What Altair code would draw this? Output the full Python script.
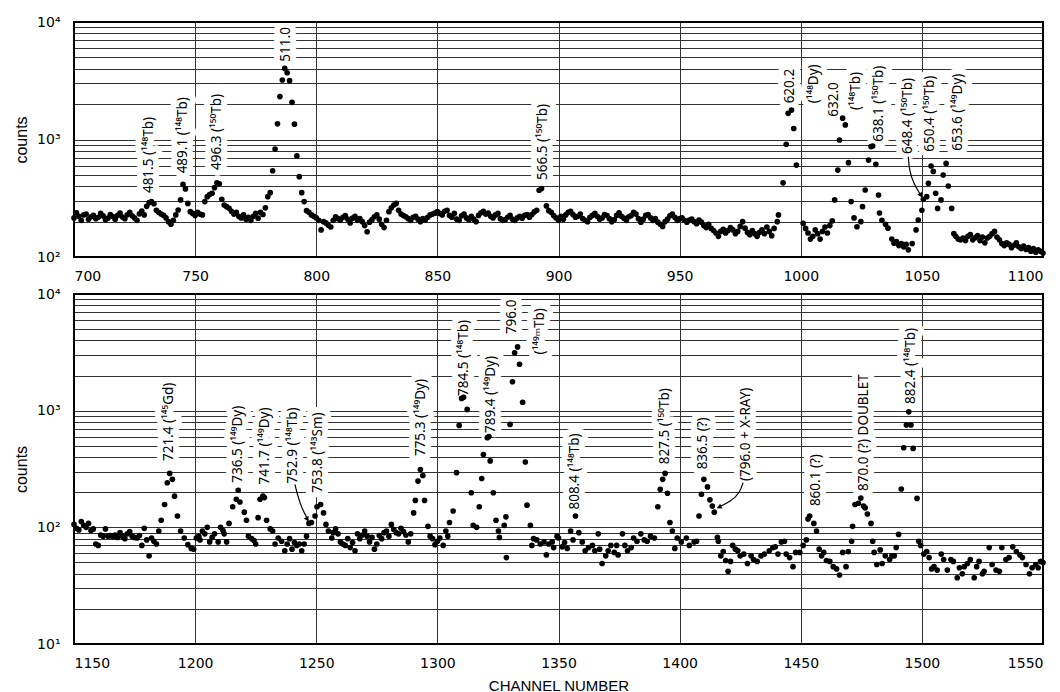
import altair as alt
import pandas as pd

# ---------------- data ----------------
# top spectrum: channel, counts
top_points = [
(700,215),(701,238),(702,222),(703,205),(704,228),(705,232),(706,210),(707,220),(708,226),(709,212),
(710,218),(711,235),(712,224),(713,208),(714,214),(715,230),(716,221),(717,210),(718,226),(719,236),
(720,219),(721,212),(722,229),(723,240),(724,224),(725,215),(726,205),(727,233),(728,246),(729,228),
(730,270),(731,290),(732,296),(733,284),(734,250),(735,240),(736,232),(737,226),(738,215),(739,200),
(740,190),(741,205),(742,228),(743,251),(744,306),(745,415),(746,380),(747,286),(748,243),(749,235),
(750,225),(751,240),(752,232),(753,228),(754,296),(755,326),(756,340),(757,349),(758,389),(759,428),
(760,420),(761,310),(762,277),(763,268),(764,260),(765,245),(766,232),(767,240),(768,222),(769,215),
(770,228),(771,210),(772,218),(773,205),(774,222),(775,235),(776,214),(777,240),(778,230),(779,262),
(780,326),(781,353),(782,542),(783,830),(784,1360),(785,2320),(786,3210),(787,4030),(788,3700),(789,3170),
(790,2070),(791,1350),(792,725),(793,483),(794,353),(795,296),(796,248),(797,240),(798,228),(799,222),
(800,215),(801,205),(802,170),(803,200),(804,195),(805,186),(806,180),(807,205),(808,220),(809,212),
(810,206),(811,218),(812,225),(813,210),(814,195),(815,214),(816,222),(817,205),(818,212),(819,200),
(820,185),(821,164),(822,198),(823,208),(824,220),(825,228),(826,210),(827,190),(828,178),(829,205),
(830,243),(831,262),(832,277),(833,286),(834,250),(835,232),(836,225),(837,220),(838,212),(839,205),
(840,218),(841,222),(842,210),(843,200),(844,212),(845,206),(846,218),(847,228),(848,232),(849,236),
(850,243),(851,235),(852,228),(853,245),(854,250),(855,226),(856,218),(857,235),(858,210),(859,205),
(860,224),(861,232),(862,215),(863,208),(864,222),(865,210),(866,200),(867,226),(868,238),(869,245),
(870,232),(871,236),(872,222),(873,215),(874,228),(875,235),(876,212),(877,205),(878,208),(879,218),
(880,226),(881,210),(882,205),(883,215),(884,222),(885,214),(886,226),(887,230),(888,218),(889,230),
(890,242),(891,250),(892,370),(893,382),(895,272),(896,248),(897,240),(898,225),(899,215),
(900,205),(901,222),(902,210),(903,228),(904,240),(905,245),(906,230),(907,218),(908,222),(909,232),
(910,212),(911,205),(912,200),(913,218),(914,226),(915,235),(916,222),(917,210),(918,215),(919,230),
(920,225),(921,212),(922,200),(923,208),(924,226),(925,238),(926,222),(927,214),(928,205),(929,220),
(930,225),(931,240),(932,232),(933,212),(934,198),(935,210),(936,226),(937,230),(938,215),(939,205),
(940,212),(941,198),(942,190),(943,182),(944,200),(945,210),(946,224),(947,232),(948,218),(949,205),
(950,212),(951,215),(952,205),(953,198),(954,206),(955,210),(956,200),(957,192),(958,206),(959,198),
(960,185),(961,178),(962,190),(963,175),(964,168),(965,160),(966,150),(967,165),(968,172),(969,160),
(970,168),(971,178),(972,170),(973,158),(974,165),(975,182),(976,200),(977,176),(978,162),(979,155),
(980,168),(981,158),(982,150),(983,162),(984,170),(985,158),(986,180),(987,165),(988,152),(989,175),
(990.3,200),(990.8,228),(992.7,428),(994,910),(994.8,1670),(996.2,1780),(997.1,1240),(998.2,606),
(1001,193),(1002,175),(1003,160),(1004,142),(1005,150),(1006,170),(1007,158),(1008,142),(1009,165),
(1010,180),(1011,160),(1012,185),(1013,203),(1014,306),(1015.3,549),(1016,990),(1017.3,1520),
(1018.4,1330),(1019.7,635),(1020.8,296),(1022,215),(1023.2,181),(1024.8,200),(1025.5,268),(1026.6,372),
(1028,668),(1029,870),(1029.7,880),(1031,615),(1032.1,337),(1032.5,237),(1033.5,205),(1035,190),
(1036,176),(1037.6,142),(1038.5,131),(1039.5,135),(1040.5,125),(1041.5,130),(1042.5,122),(1043.5,128),
(1044.4,115),(1046,130),(1047.6,170),(1048.5,206),(1050,250),(1050.6,310),(1052,326),(1052.7,424),
(1053.8,595),(1054.7,535),(1055.7,349),(1056.5,259),(1057.9,306),(1058.8,499),(1060,626),(1060.9,402),
(1062.3,259),(1063.2,158),(1064,150),(1065,142),(1066,140),(1067,145),(1068,138),(1069,150),
(1070,155),(1071,140),(1072,146),(1073,152),(1074,138),(1075,148),(1076,132),(1077,145),(1078,150),
(1079,158),(1080,165),(1081,148),(1082,140),(1083,130),(1084,125),(1085,132),(1086,128),(1087,120),
(1088,126),(1089,132),(1090,122),(1091,118),(1092,124),(1093,116),(1094,120),(1095,112),(1096,118),
(1097,110),(1098,115),(1099,112),(1100,108),
]

# bottom spectrum: channel, counts
bottom_points = [
(1150,106),(1151,98),(1152,95),(1153,112),(1154,104),(1155,100),(1156,108),(1157,94),(1158,97),(1159,72),
(1160,70),(1161,86),(1162,84),(1163,97),(1164,84),(1165,85),(1166,83),(1167,86),(1168,82),(1169,90),
(1170,84),(1171,80),(1172,88),(1173,92),(1174,84),(1175,82),(1176,81),(1177,85),(1178,70),(1179,98),
(1180,78),(1181,57),(1182,81),(1183,76),(1184,72),(1185,93),
(1186,115),(1187.4,157),(1188.5,241),(1189.5,290),(1190.6,258),(1191.5,185),(1192.7,125),(1194,93),
(1195.5,81),(1197,71),(1198.4,66),(1199.4,65),(1200.5,81),(1201.5,84),(1202,78),(1203,93),(1204,88),
(1205,100),(1206,75),(1207,82),(1208,88),(1209.5,75),(1210.5,100),(1211.5,94),(1212,88),(1213,75),
(1214,108),(1215.5,150),(1217,174),(1217.8,208),(1218.5,165),(1220.3,135),(1221.2,115),(1222,84),
(1223.3,80),(1224.3,77),(1225,72),(1226,121),(1226.8,174),(1228,185),(1228.6,180),(1229.5,115),
(1231,97),(1232,93),(1233,72),(1234.3,81),(1235.7,76),(1237,63),(1238,72),(1239,80),(1240,65),
(1241,74),(1242,70),(1243,72),(1244,63),(1245,72),(1246,84),(1247,108),(1248,110),(1249.5,125),
(1250.3,150),(1251.8,157),(1253,133),(1254,106),(1255,93),(1256.4,81),(1257,90),(1258,97),(1259,88),
(1260,75),(1261,72),(1262,70),(1263,80),(1264,67),(1265,74),(1266,63),(1267,88),(1268,80),(1269,86),
(1270,93),(1271,84),(1272,75),(1273,82),(1274,65),(1275,72),(1276,85),(1277,80),(1278,90),(1279,93),
(1280,84),(1281,106),(1282,96),(1283,90),(1284,88),(1285,98),(1286,92),(1287,86),(1288,75),(1289,88),
(1290.2,133),(1290.9,170),(1292,249),(1293,313),(1294,278),(1294.7,170),(1296.1,102),(1297,84),
(1298,80),(1299,71),(1300,76),(1301,81),(1302.4,70),(1303.5,93),(1304.3,84),
(1305,110),(1306.5,138),(1307.9,294),(1309,748),(1310,1273),(1310.8,1300),(1312.3,1025),(1314,198),
(1314.8,104),(1316.2,100),(1317.3,150),(1318.3,262),(1319,420),(1320.6,587),(1321.3,600),(1321.8,371),
(1323.1,198),(1324.2,115),(1325.2,93),(1325.6,82),(1327.6,104),(1328.3,123),(1328.5,55),(1330,762),
(1331,1770),(1331.9,3130),(1333.1,3520),(1333.9,2500),(1335.2,1180),(1336.3,363),(1337,155),(1338.4,104),
(1339,70),(1339.7,80),(1341,78),(1342.5,72),(1344,75),(1345,58),(1346,72),(1347.4,75),(1348,67),
(1349.4,84),(1350,81),(1351.5,68),(1352.5,74),(1353.6,66),(1355,93),(1356,78),(1357,125),(1358.4,90),
(1359.8,75),(1361,63),(1362.4,67),(1364,70),(1365,63),(1366.4,88),(1367,65),(1368,49),(1369.5,57),
(1370.5,63),(1371.6,70),(1373,61),(1374,70),(1374.6,58),(1376.4,88),(1377.4,70),(1378.5,63),(1380,67),
(1381,81),(1382.4,76),(1384,88),(1385.4,78),(1386.6,76),(1388,84),(1389.6,81),(1391,150),(1392,212),
(1393,258),(1394,290),(1395,196),(1396,110),(1397,93),(1398,66),(1399,81),(1400.7,75),(1402.8,81),
(1404,70),(1406,75),(1407,76),
(1408,125),(1409,192),(1410,258),(1411.5,222),(1412.5,172),(1413.5,152),(1414.3,135),(1415.6,82),
(1416,76),(1417,57),(1418,62),(1419,52),(1420,42),(1421,51),(1421.9,70),(1423,65),(1424,63),(1425,57),
(1426.5,59),(1428,49),(1429.5,57),(1430.5,53),(1432,51),(1433.6,57),(1435,59),(1437,63),(1438.5,67),
(1439.5,68),(1440.6,59),(1442,75),(1443.3,76),(1444,59),(1445.4,55),(1446.8,46),(1447.9,61),(1449.6,61),
(1451,70),(1452.3,78),(1453,118),(1453.7,125),(1455.4,108),(1456.5,93),(1457.6,65),(1458.6,57),
(1459.5,61),(1460.6,52),(1462,51),(1463.4,46),(1464.8,44),(1466,39),(1467.3,61),(1468.7,46),(1469.6,62),
(1471,76),(1471.4,102),(1472.4,157),(1473.8,161),(1474.8,178),(1475.9,152),(1476.6,147),(1477.5,130),
(1479,108),(1479.7,76),(1480.3,61),(1481.4,48),(1482.8,64),(1483.6,49),(1484.9,57),(1486.7,53),
(1487.6,57),(1488.6,57),(1489.4,67),(1490.4,87),(1491.5,213),(1492.5,481),(1493.6,754),(1494.6,977),
(1495.5,754),(1496.4,475),(1498,177),(1498.7,76),(1499.5,70),(1500.8,59),(1502,62),(1503,55),(1504,44),
(1505,46),(1506.3,43),(1508,59),(1509,53),(1510.5,43),(1512,53),(1513,51),(1514.6,37),(1515.5,45),
(1516.7,40),(1517.5,46),(1518.8,49),(1520,53),(1521.6,37),(1522.6,46),(1523.6,51),(1525,40),(1525.7,42),
(1527.8,67),(1529,48),(1530.6,43),(1532,42),(1533,67),(1534.7,53),(1536,55),(1537.5,68),(1539,62),
(1540.5,58),(1541.5,55),(1543,48),(1544.4,40),(1545.5,45),(1547,48),(1548,45),(1549,51),(1550,50),
]

# peak labels: text, channel, counts at the start (bottom) of the rotated text
top_labels = [
("481.5 (¹⁴⁸Tb)", 731, 350),
("489.1 (¹⁴⁸Tb)", 745, 515),
("496.3 (¹⁵⁰Tb)", 759, 550),
("511.0", 787.5, 4600),
("566.5 (¹⁵⁰Tb)", 893.8, 452),
("620.2", 995.5, 2030),
("(¹⁴⁸Dy)", 1005.5, 2030),
("632.0", 1013.8, 1563),
("(¹⁴⁸Tb)", 1023, 1780),
("638.1 (¹⁵⁰Tb)", 1032.4, 957),
("648.4 (¹⁵⁰Tb)", 1044.4, 753),
("650.4 (¹⁵⁰Tb)", 1053.3, 787),
("653.6 (¹⁴⁹Dy)", 1065, 803),
]
bottom_labels = [
("721.4 (¹⁴⁵Gd)", 1189.2, 370),
("736.5 (¹⁴⁹Dy)", 1217.8, 241),
("741.7 (¹⁴⁹Dy)", 1228.8, 233),
("752.9 (¹⁴⁸Tb)", 1240.5, 237),
("753.8 (¹⁴³Sm)", 1250.9, 198),
("775.3 (¹⁴⁹Dy)", 1293.3, 408),
("784.5 (¹⁴⁸Tb)", 1311, 1334),
("789.4 (¹⁴⁹Dy)", 1322, 643),
("796.0", 1331, 4530),
("(¹⁴⁹ᵐTb)", 1342.3, 3035),
("808.4 (¹⁴⁸Tb)", 1356.7, 142),
("827.5 (¹⁵⁰Tb)", 1394, 347),
("836.5 (?)", 1409.6, 314),
("(796.0 + X-RAY)", 1427.6, 249),
("860.1 (?)", 1456.5, 152),
("870.0 (?) DOUBLET", 1476.3, 205),
("882.4 (¹⁴⁸Tb)", 1495.6, 1140),
]

# leader arrows: id, channel, counts (path points)
top_arrows = [(1, 1044.4, 714), (1, 1044.8, 549), (1, 1046.5, 424), (1, 1049.9, 326)]
top_heads = [(1049.6, 335, 148)]
bottom_arrows = [
(1, 1241.2, 233), (1, 1242.2, 192), (1, 1243.9, 147), (1, 1246.7, 115),
(2, 1426.2, 241), (2, 1424.8, 198), (2, 1421.4, 168), (2, 1415.6, 147),
]
bottom_heads = [(1246.3, 117, 152), (1416.3, 149, 244)]

top_x_ticks = [700, 750, 800, 850, 900, 950, 1000, 1050, 1100]
bottom_x_ticks = [1150, 1200, 1250, 1300, 1350, 1400, 1450, 1500, 1550]
top_y_grid = [m * 10 ** k for k in (2, 3) for m in range(1, 10)] + [10000]
bottom_y_grid = [m * 10 ** k for k in (1, 2, 3) for m in range(1, 10)] + [10000]

W = 969
LABEL_FONT = "Noto Sans"
TITLE_FONT = "Liberation Sans"
TICK_FONT = "DejaVu Sans"

ylab = ("datum.value == 10000 ? '10⁴' : datum.value == 1000 ? '10³' : "
        "datum.value == 100 ? '10²' : datum.value == 10 ? '10¹' : ''")


def panel(points, labels, arrows, heads, xdom, xticks, ydom, ygrid, height, xtitle):
    pts = pd.DataFrame(points, columns=["ch", "counts"])
    lab = pd.DataFrame(labels, columns=["text", "ch", "counts"])
    arr = pd.DataFrame(arrows, columns=["id", "ch", "counts"])
    arr["seq"] = range(len(arr))
    hd = pd.DataFrame(heads, columns=["ch", "counts", "angle"])

    def X():
        return alt.X("ch:Q", scale=alt.Scale(domain=xdom, nice=False, zero=False),
                     axis=alt.Axis(values=xticks, grid=True, ticks=False, domain=False,
                                   labelPadding=12, labelFont=TICK_FONT, labelFontSize=14,
                                   labelColor="black", format="d",
                                   title=xtitle, titleFont=TITLE_FONT, titleFontSize=15,
                                   titleFontWeight="normal", titlePadding=8, titleColor="black"))

    def Y():
        return alt.Y("counts:Q", scale=alt.Scale(type="log", domain=ydom, nice=False),
                     axis=alt.Axis(values=ygrid, grid=True, ticks=False, domain=False,
                                   labelExpr=ylab, labelPadding=14, labelFont=TICK_FONT,
                                   labelFontSize=14, labelColor="black",
                                   title="counts", titleFont=TITLE_FONT, titleFontSize=16,
                                   titleFontWeight="normal", titlePadding=7, titleColor="black"))

    text_kw = dict(angle=270, align="left", baseline="middle", font=LABEL_FONT, fontSize=13.5)
    halo = alt.Chart(lab).mark_text(color="white", stroke="white", strokeWidth=12,
                                    strokeJoin="round", **text_kw).encode(x=X(), y=Y(), text="text:N")
    dots = alt.Chart(pts).mark_circle(size=32, color="black", opacity=1).encode(x=X(), y=Y())
    lines = alt.Chart(arr).mark_line(color="black", strokeWidth=1.2, interpolate="basis").encode(
        x=X(), y=Y(), detail="id:N", order="seq:Q")
    tips = alt.Chart(hd).mark_point(shape="triangle-up", filled=True, color="black", size=30,
                                    opacity=1).encode(x=X(), y=Y(),
                                                      angle=alt.Angle("angle:Q", scale=None))
    txt = alt.Chart(lab).mark_text(color="black", **text_kw).encode(x=X(), y=Y(), text="text:N")
    frame = alt.Chart(pts).mark_rect(filled=False, stroke="black", strokeWidth=1.5).encode(
        x=alt.value(0), x2=alt.value(W), y=alt.value(0), y2=alt.value(height))
    return alt.layer(halo, dots, lines, tips, txt, frame).properties(width=W, height=height)


top = panel(top_points, top_labels, top_arrows, top_heads, [700, 1100], top_x_ticks,
            [100, 10000], top_y_grid, 235, None)
bottom = panel(bottom_points, bottom_labels, bottom_arrows, bottom_heads, [1150, 1550],
               bottom_x_ticks, [10, 10000], bottom_y_grid, 350, "CHANNEL NUMBER")

chart = alt.vconcat(top, bottom, spacing=4).resolve_scale(x="independent", y="independent").configure_view(
    stroke=None).configure_axis(gridColor="#333333", gridWidth=1, gridOpacity=1).properties(
    background="white", padding={"left": 5, "top": 7, "right": 5, "bottom": 2})

chart.save("out.html", embed_options={"renderer": "svg", "actions": False})
